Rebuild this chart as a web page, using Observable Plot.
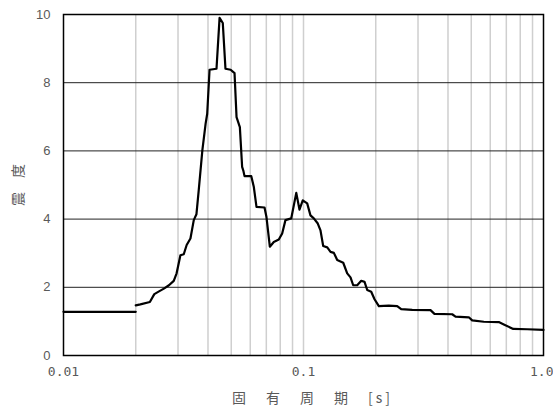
<!DOCTYPE html>
<html>
<head>
<meta charset="utf-8">
<script src="https://cdn.jsdelivr.net/npm/d3@7"></script>
<script src="https://cdn.jsdelivr.net/npm/@observablehq/plot@0.6"></script>
<style>
  html, body { margin: 0; padding: 0; background: #fff; }
</style>
</head>
<body>
<div id="chart"></div>
<script>
// Flat low-period segment
const periodsLow = [0.01, 0.02];
const valuesLow = [1.28, 1.28];

// Main spectrum segment
const periods = [0.020, 0.0209, 0.0229, 0.0239, 0.0250, 0.0262, 0.0275, 0.0288, 0.0296, 0.0307,
  0.0317, 0.0326, 0.0338, 0.0349, 0.0358, 0.0366, 0.0379, 0.0391, 0.0397, 0.0406,
  0.0434, 0.0447, 0.0461, 0.0473, 0.0497, 0.0516, 0.0526, 0.0543, 0.0555, 0.0561,
  0.0568, 0.0606, 0.0621, 0.0637, 0.0688, 0.0701, 0.0724, 0.0752, 0.0789, 0.0815,
  0.0841, 0.0889, 0.0933, 0.0962, 0.0993, 0.1036, 0.1069, 0.1104, 0.1147, 0.1177,
  0.1208, 0.1256, 0.1296, 0.1338, 0.1382, 0.1464, 0.1521, 0.1570, 0.1611, 0.1674,
  0.1740, 0.1796, 0.1843, 0.1915, 0.1977, 0.2060, 0.2267, 0.2457, 0.2553, 0.2838,
  0.3382, 0.3513, 0.4165, 0.4299, 0.4885, 0.5046, 0.5639, 0.6512, 0.6833, 0.7477,
  0.8554, 1.0];
const values = [1.47, 1.50, 1.57, 1.80, 1.88, 1.96, 2.06, 2.19, 2.41, 2.94,
  2.97, 3.24, 3.43, 3.97, 4.14, 4.85, 6.02, 6.80, 7.09, 8.38,
  8.41, 9.90, 9.75, 8.41, 8.38, 8.28, 6.99, 6.70, 5.53, 5.43,
  5.26, 5.26, 4.94, 4.36, 4.34, 4.06, 3.19, 3.33, 3.40, 3.58,
  3.97, 4.02, 4.77, 4.28, 4.55, 4.46, 4.11, 4.02, 3.87, 3.67,
  3.21, 3.17, 3.04, 3.01, 2.80, 2.72, 2.41, 2.29, 2.06, 2.06,
  2.19, 2.16, 1.92, 1.87, 1.65, 1.45, 1.46, 1.45, 1.36, 1.34,
  1.33, 1.22, 1.21, 1.14, 1.12, 1.03, 0.99, 0.98, 0.91, 0.78,
  0.77, 0.75];

const xTicks = [0.01, 0.1];
const xTickLabels = ["0.01", "0.1"];
const xEndTick = [1];
const xEndLabel = "1.0";
const yTicks = [0, 2, 4, 6, 8, 10];
const xGrid = [0.02, 0.03, 0.04, 0.05, 0.06, 0.07, 0.08, 0.09, 0.1, 0.2, 0.3, 0.4, 0.5, 0.6, 0.7, 0.8, 0.9];
const yGrid = [2, 4, 6, 8];
const xLabel = "固　有　周　期　[s]";
const yLabel = "震　度";

const lowData = periodsLow.map((p, i) => ({period: p, value: valuesLow[i]}));
const mainData = periods.map((p, i) => ({period: p, value: values[i]}));
const xTickMap = new Map(xTicks.map((t, i) => [t, xTickLabels[i]]));

const tickFont = "'DejaVu Sans Mono', monospace";

const chart = Plot.plot({
  width: 553,
  height: 412,
  marginLeft: 63,
  marginRight: 10,
  marginTop: 14,
  marginBottom: 57,
  x: {type: "log", domain: [0.01, 1]},
  y: {domain: [0, 10]},
  style: {background: "#fff", color: "#595959", fontFamily: "'Noto Sans CJK JP', sans-serif"},
  marks: [
    Plot.ruleX(xGrid, {stroke: "#cfcfcf", strokeWidth: 1.5}),
    Plot.ruleY(yGrid, {stroke: "#222", strokeWidth: 1}),
    Plot.frame({stroke: "#000", strokeWidth: 1.5}),
    Plot.axisX({ticks: xTicks, tickFormat: d => xTickMap.get(d) ?? "", tickSize: 0, tickPadding: 11,
      fontSize: 13, fontFamily: tickFont, label: null, fill: "#595959"}),
    Plot.axisX({ticks: xEndTick, tickFormat: () => xEndLabel, tickSize: 0, tickPadding: 11,
      fontSize: 13, fontFamily: tickFont, label: null, fill: "#595959", textAnchor: "end", dx: 10}),
    Plot.axisY({ticks: yTicks, tickSize: 0, tickPadding: 13, fontSize: 13,
      fontFamily: "'Liberation Sans', sans-serif", label: null, fill: "#595959"}),
    Plot.line(lowData, {x: "period", y: "value", stroke: "#000", strokeWidth: 2.2}),
    Plot.line(mainData, {x: "period", y: "value", stroke: "#000", strokeWidth: 2.2}),
    Plot.text([yLabel], {frameAnchor: "left", dx: -45, rotate: -90, textAnchor: "middle", lineAnchor: "middle",
      fontSize: 14, fill: "#595959", fontFamily: "'Noto Sans CJK JP', sans-serif"}),
    Plot.text([xLabel], {frameAnchor: "bottom", dx: 9, dy: 47, fontSize: 14, fill: "#595959",
      fontFamily: "'Noto Sans CJK JP', sans-serif"})
  ]
});
// widen spacing of the axis title characters
d3.select(chart).selectAll("text").filter(function() { return this.textContent === xLabel; })
  .style("letter-spacing", "3px");
document.getElementById("chart").appendChild(chart);
</script>
</body>
</html>
